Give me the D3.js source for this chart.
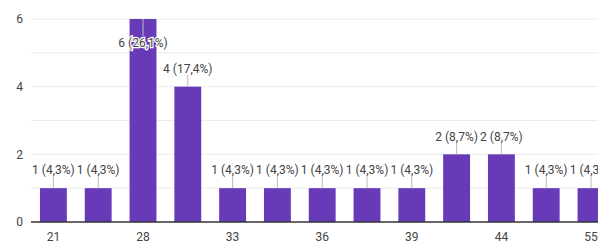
<!DOCTYPE html>
<html>
<head>
<meta charset="utf-8">
<script src="https://cdn.jsdelivr.net/npm/d3@7"></script>
<style>
  body { margin: 0; background: #fff; }
  svg { display: block; font-family: Roboto, Arial, sans-serif; }
</style>
</head>
<body>
<svg id="chart" width="598" height="249"></svg>
<script>
// ages answered (only every other one gets a tick label)
var ages = ['21', '25', '28', '30', '33', '35', '36', '37', '39', '40', '44', '50', '55'];
var counts = [1, 1, 6, 4, 1, 1, 1, 1, 1, 2, 2, 1, 1];
var yTicks = [0, 2, 4, 6];

var total = d3.sum(counts);
var svg = d3.select('#chart');

var x = d3.scaleBand()
    .domain(ages)
    .range([31, 613.4])
    .paddingInner(0.4)
    .paddingOuter(0.2);

var y = d3.scaleLinear()
    .domain([0, 6])
    .range([222, 19]);

// gridlines
svg.append('g')
    .selectAll('line')
    .data(d3.range(1, 7))
    .enter()
    .append('line')
    .attr('x1', 31)
    .attr('x2', 598)
    .attr('y1', d => y(d))
    .attr('y2', d => y(d))
    .attr('stroke', '#ebebeb')
    .attr('stroke-width', 1);

// y labels
svg.append('g')
    .selectAll('text')
    .data(yTicks)
    .enter()
    .append('text')
    .attr('x', 23)
    .attr('y', d => y(d))
    .attr('dy', '0.35em')
    .attr('text-anchor', 'end')
    .attr('fill', '#444')
    .attr('font-size', 12)
    .text(d => d);

// bars
svg.append('g')
    .selectAll('rect')
    .data(counts)
    .enter()
    .append('rect')
    .attr('x', (d, i) => x(ages[i]))
    .attr('y', d => y(d))
    .attr('width', x.bandwidth())
    .attr('height', d => y(0) - y(d))
    .attr('fill', '#673ab7');

// baseline
svg.append('line')
    .attr('x1', 31)
    .attr('x2', 598)
    .attr('y1', y(0))
    .attr('y2', y(0))
    .attr('stroke', '#333')
    .attr('stroke-width', 1.5);

// x labels, every other category
svg.append('g')
    .selectAll('text')
    .data(ages.filter((d, i) => i % 2 == 0))
    .enter()
    .append('text')
    .attr('x', d => x(d) + x.bandwidth() / 2)
    .attr('y', 237)
    .attr('dy', '0.35em')
    .attr('text-anchor', 'middle')
    .attr('fill', '#444')
    .attr('font-size', 12)
    .text(d => d);

// value labels with little stems
var fmt = v => (v / total * 100).toFixed(1).replace('.', ',');
var labels = svg.append('g')
    .selectAll('g')
    .data(counts)
    .enter()
    .append('g')
    .attr('transform', (d, i) => `translate(${x(ages[i]) + x.bandwidth() / 2} ${y(d)})`);

labels.append('line')
    .attr('y1', 0)
    .attr('y2', d => d == 6 ? 17 : -12)
    .attr('stroke', '#bbb')
    .attr('stroke-width', 1);

labels.append('text')
    .attr('y', d => d == 6 ? 24 : -18)
    .attr('dy', '0.35em')
    .attr('text-anchor', 'middle')
    .attr('fill', '#444')
    .attr('font-size', 12)
    .attr('stroke', d => d == 6 ? '#fff' : 'none')
    .attr('stroke-width', 2.5)
    .attr('paint-order', 'stroke')
    .text(d => `${d} (${fmt(d)}%)`);
</script>
</body>
</html>
